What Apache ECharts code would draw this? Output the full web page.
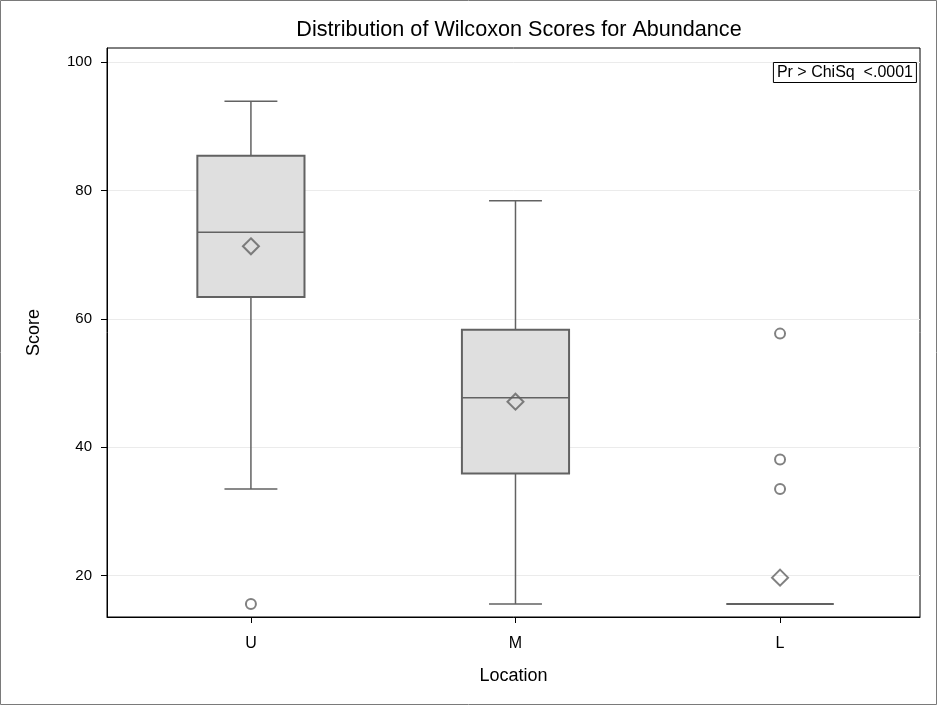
<!DOCTYPE html>
<html>
<head>
<meta charset="utf-8">
<script src="https://cdn.jsdelivr.net/npm/echarts@6/dist/echarts.min.js"></script>
<style>
  html, body { margin: 0; padding: 0; background: #fff; }
  #chart { width: 938px; height: 706px; }
</style>
</head>
<body>
<div id="chart"></div>
<script>
// Groups along the x axis
var categories = ['U', 'M', 'L'];
// Box statistics per group: [lower whisker, Q1, median, Q3, upper whisker]
var boxStats = [
  [33.5, 63.4, 73.5, 85.4, 93.9],
  [15.6, 35.9, 47.7, 58.3, 78.4],
  [15.6, 15.6, 15.6, 15.6, 15.6]
];
// Group means (diamonds)
var means = [71.3, 47.1, 19.7];
// Outliers: [group index, score]
var outliers = [[0, 15.6], [2, 57.7], [2, 38.1], [2, 33.5]];
// Y tick labels
var yTicks = [20, 40, 60, 80, 100];
var testLabel = 'Pr > ChiSq  <.0001';

var FONT = '"Liberation Sans", Arial, sans-serif';
var EDGE = '#626262';

var boxData = boxStats.map(function (s, i) { return [i].concat(s); });
var meanData = means.map(function (m, i) { return [i, m]; });

var chart = echarts.init(document.getElementById('chart'), null, { renderer: 'canvas' });

function renderBox(params, api) {
  var x = api.value(0);
  var lo = api.coord([x, api.value(1)]);
  var q1 = api.coord([x, api.value(2)]);
  var med = api.coord([x, api.value(3)]);
  var q3 = api.coord([x, api.value(4)]);
  var hi = api.coord([x, api.value(5)]);
  var boxW = api.size([0.405, 0])[0];
  var capW = api.size([0.2, 0])[0];
  var cx = lo[0];
  var line = { stroke: EDGE, lineWidth: 1.5 };
  var children = [];
  // whiskers
  children.push({ type: 'line', shape: { x1: cx, y1: q3[1], x2: cx, y2: hi[1] }, style: line });
  children.push({ type: 'line', shape: { x1: cx, y1: q1[1], x2: cx, y2: lo[1] }, style: line });
  children.push({ type: 'line', shape: { x1: cx - capW / 2, y1: hi[1], x2: cx + capW / 2, y2: hi[1] }, style: line });
  children.push({ type: 'line', shape: { x1: cx - capW / 2, y1: lo[1], x2: cx + capW / 2, y2: lo[1] }, style: line });
  // box
  children.push({
    type: 'rect',
    shape: { x: cx - boxW / 2, y: q3[1], width: boxW, height: q1[1] - q3[1] },
    style: { fill: '#dfdfdf', stroke: EDGE, lineWidth: 2 }
  });
  // median
  children.push({ type: 'line', shape: { x1: cx - boxW / 2, y1: med[1], x2: cx + boxW / 2, y2: med[1] }, style: line });
  return { type: 'group', children: children };
}

chart.setOption({
  backgroundColor: '#ffffff',
  animation: false,
  title: [
    {
      text: 'Distribution of Wilcoxon Scores for Abundance',
      left: 514,
      textAlign: 'center',
      top: 14,
      textStyle: { fontFamily: FONT, fontSize: 21.6, fontWeight: 'normal', color: '#000' }
    },
    {
      text: testLabel,
      right: 21,
      top: 62,
      padding: [3, 4, 2, 4],
      borderColor: '#000',
      borderWidth: 1,
      backgroundColor: '#fff',
      textStyle: { fontFamily: FONT, fontSize: 16, fontWeight: 'normal', color: '#000' }
    }
  ],
  graphic: [{
    type: 'rect',
    shape: { x: 0.5, y: 0.5, width: 936, height: 704 },
    style: { fill: 'none', stroke: '#7a7a7a', lineWidth: 1 },
    silent: true
  }],
  grid: {
    left: 107, top: 48, right: 18, bottom: 89,
    show: true, borderColor: '#000', borderWidth: 1, backgroundColor: '#fff'
  },
  xAxis: {
    type: 'value',
    min: -0.544,
    max: 2.529,
    name: 'Location',
    nameLocation: 'middle',
    nameGap: 50,
    nameTextStyle: { fontFamily: FONT, fontSize: 18, color: '#000' },
    axisLine: { show: true, onZero: false, lineStyle: { color: '#000', width: 1 } },
    axisTick: { show: true, length: 6, customValues: [0, 1, 2], lineStyle: { color: '#000' } },
    axisLabel: {
      customValues: [0, 1, 2],
      margin: 19,
      fontFamily: FONT, fontSize: 16, color: '#000',
      formatter: function (v) { return categories[Math.round(v)]; }
    },
    splitLine: { show: false }
  },
  yAxis: {
    type: 'value',
    min: 13.57,
    max: 102.18,
    name: 'Score',
    nameLocation: 'middle',
    nameRotate: 90,
    nameGap: 64,
    nameTextStyle: { fontFamily: FONT, fontSize: 18, color: '#000' },
    axisLine: { show: true, onZero: false, lineStyle: { color: '#000', width: 1 } },
    axisTick: { show: true, length: 6, customValues: yTicks, lineStyle: { color: '#000' } },
    axisLabel: {
      customValues: yTicks,
      margin: 15,
      fontFamily: FONT, fontSize: 15, color: '#000'
    },
    splitLine: { show: true, lineStyle: { color: '#ebebeb', width: 1 } }
  },
  series: [
    {
      type: 'custom',
      name: 'box',
      renderItem: renderBox,
      encode: { x: 0, y: [1, 2, 3, 4, 5] },
      data: boxData,
      z: 2
    },
    {
      type: 'scatter',
      name: 'mean',
      symbol: 'diamond',
      symbolSize: [16, 16],
      data: meanData,
      itemStyle: { color: 'rgba(0,0,0,0)', borderColor: EDGE, borderWidth: 2 },
      z: 3
    },
    {
      type: 'scatter',
      name: 'outlier',
      symbol: 'circle',
      symbolSize: 10,
      data: outliers,
      itemStyle: { color: 'rgba(0,0,0,0)', borderColor: EDGE, borderWidth: 2 },
      z: 3
    }
  ]
});
</script>
</body>
</html>
